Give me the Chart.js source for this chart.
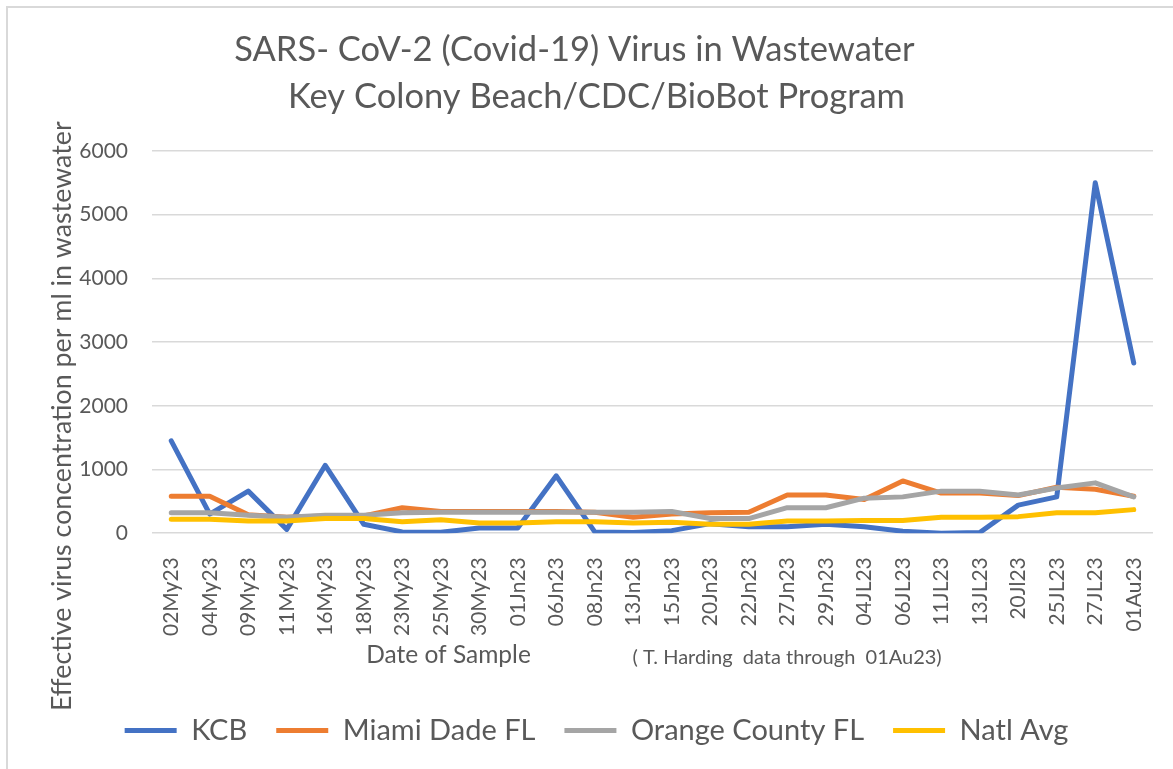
<!DOCTYPE html>
<html>
<head>
<meta charset="utf-8">
<title>SARS-CoV-2 in Wastewater</title>
<script src="https://cdn.jsdelivr.net/npm/chart.js@4.4.1/dist/chart.umd.min.js"></script>
<style>
	html, body {
		margin: 0;
		padding: 0;
		background: #ffffff;
		overflow: hidden;
	}
	#frame {
		position: absolute;
		left: 6px;
		top: 6px;
		width: 1200px;
		height: 800px;
		border: 2px solid #d9d9d9;
	}
	#wrap {
		position: absolute;
		left: 0;
		top: 0;
		width: 1173px;
		height: 769px;
	}
</style>
</head>
<body>
<div id="frame"></div>
<div id="wrap"><canvas id="virusChart" width="1173" height="769"></canvas></div>
<script>
// sample dates (as written on the original sheet)
var sampleDates = [
	'02My23', '04My23', '09My23', '11My23', '16My23', '18My23', '23My23',
	'25My23', '30My23', '01Jn23', '06Jn23', '08Jn23', '13Jn23', '15Jn23',
	'20Jn23', '22Jn23', '27Jn23', '29Jn23', '04JL23', '06JL23', '11JL23',
	'13JL23', '20Jl23', '25JL23', '27JL23', '01Au23'
];

// effective virus concentration per ml
var kcb = [1450, 300, 660, 60, 1065, 140, 20, 15, 80, 80, 900, 20, 10, 40,
	150, 100, 100, 140, 100, 30, 0, 10, 440, 570, 5500, 2670];
var miamiDade = [580, 580, 290, 250, 270, 270, 400, 340, 340, 340, 340, 330, 250, 300,
	320, 330, 600, 600, 530, 820, 630, 630, 590, 720, 690, 580];
var orangeCounty = [320, 320, 280, 250, 280, 280, 320, 330, 330, 330, 330, 330, 330, 340,
	230, 230, 400, 400, 550, 570, 660, 660, 600, 710, 790, 570];
var natlAvg = [220, 220, 190, 190, 230, 230, 180, 210, 160, 160, 180, 180, 160, 170,
	140, 140, 190, 190, 200, 200, 250, 250, 260, 320, 320, 370];

var yTicks = [0, 1000, 2000, 3000, 4000, 5000, 6000];

var seriesNames = ['KCB', 'Miami Dade FL', 'Orange County FL', 'Natl Avg'];
var seriesColors = ['#4472c4', '#ed7d31', '#a5a5a5', '#ffc000'];

var textColor = '#595959';
var fontName = 'Lato, "Open Sans", sans-serif';

// first title line carries trailing blanks in the original sheet
var titleLines = ['SARS- CoV-2 (Covid-19) Virus in Wastewater     ', 'Key Colony Beach/CDC/BioBot Program'];
var yCaption = 'Effective virus concentration per ml in wastewater';
var xCaption = 'Date of Sample';
var xNote = '( T. Harding  data through  01Au23)';

// axis captions sit off-centre in the original, so draw them here
var captionPlugin = {
	id: 'axisCaptions',
	afterDraw: function (chart) {
		var ctx = chart.ctx;
		var area = chart.chartArea;
		var mid = (area.left + area.right) / 2;
		var y = area.bottom + 122;
		ctx.save();
		ctx.fillStyle = textColor;
		ctx.textBaseline = 'middle';
		ctx.textAlign = 'center';
		ctx.font = '24.5px ' + fontName;
		ctx.fillText(xCaption, mid - 204, y);
		ctx.textAlign = 'left';
		ctx.font = '20px ' + fontName;
		ctx.fillText(xNote, mid - 20, y + 2);

		ctx.translate(62, area.bottom - 117);
		ctx.rotate(-Math.PI / 2);
		ctx.textAlign = 'center';
		ctx.font = '26.8px ' + fontName;
		ctx.fillText(yCaption, 0, 0);
		ctx.restore();
	}
};

function makeSet(i, values) {
	return {
		label: seriesNames[i],
		data: values,
		borderColor: seriesColors[i],
		backgroundColor: seriesColors[i],
		borderWidth: 5,
		borderCapStyle: 'round',
		borderJoinStyle: 'round',
		pointRadius: 0,
		pointHoverRadius: 0,
		pointStyle: 'line',
		tension: 0,
		fill: false,
		order: 4 - i // later series on top, like the spreadsheet
	};
}

var config = {
	type: 'line',
	data: {
		labels: sampleDates,
		datasets: [
			makeSet(0, kcb),
			makeSet(1, miamiDade),
			makeSet(2, orangeCounty),
			makeSet(3, natlAvg)
		]
	},
	options: {
		responsive: false,
		animation: false,
		layout: {
			padding: { left: 40, right: 20, top: 0, bottom: 14 }
		},
		plugins: {
			title: {
				display: true,
				text: titleLines,
				color: textColor,
				font: { family: fontName, size: 34.5, weight: 'normal', lineHeight: 1.36 },
				padding: { top: 26.5, bottom: 30.5 }
			},
			legend: {
				display: true,
				position: 'bottom',
				labels: {
					usePointStyle: true,
					pointStyleWidth: 52,
					boxHeight: 20,
					color: textColor,
					padding: 29,
					font: { family: fontName, size: 29 },
					sort: function (a, b) {
						return a.datasetIndex - b.datasetIndex;
					}
				}
			},
			tooltip: { enabled: false }
		},
		scales: {
			x: {
				offset: true,
				grid: { display: false, drawTicks: false },
				border: { display: false },
				ticks: {
					color: textColor,
					font: { family: fontName, size: 21 },
					minRotation: 90,
					maxRotation: 90,
					autoSkip: false,
					padding: 24
				},
				// blank title only keeps room for the captions drawn by the plugin
				title: {
					display: true,
					text: ' ',
					font: { family: fontName, size: 15 },
					padding: { top: 0, bottom: 9 }
				},
				afterFit: function (scale) {
					scale.paddingLeft = 0;
					scale.paddingRight = 0;
				}
			},
			y: {
				min: 0,
				max: 6000,
				afterBuildTicks: function (scale) {
					scale.ticks = yTicks.map(function (v) { return { value: v }; });
				},
				afterFit: function (scale) {
					scale.width = 112;
				},
				grid: { color: '#d9d9d9', lineWidth: 1.5, drawTicks: false },
				border: { display: false },
				ticks: {
					color: textColor,
					font: { family: fontName, size: 21 },
					padding: 24,
					callback: function (value) {
						return String(value);
					}
				}
			}
		}
	},
	plugins: [captionPlugin]
};

var virusChart = new Chart(document.getElementById('virusChart'), config);
</script>
</body>
</html>
